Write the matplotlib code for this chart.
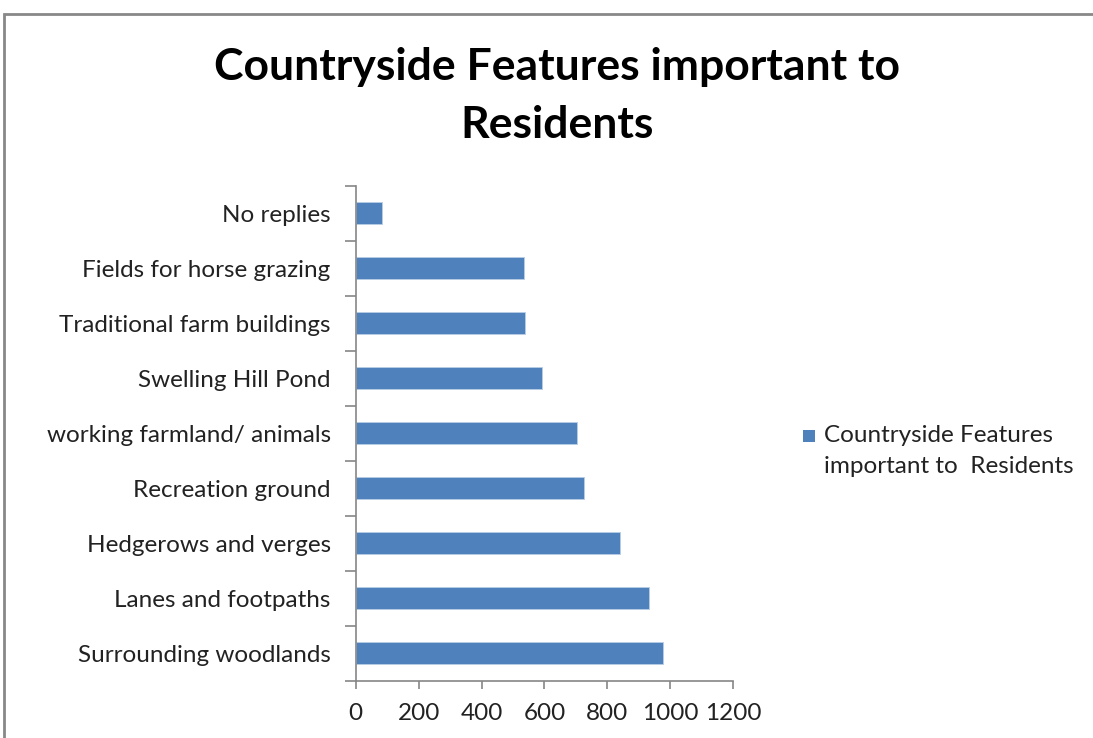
import numpy as np
import matplotlib.pyplot as plt
from matplotlib.patches import Rectangle

# survey counts per feature (bottom to top)
features = ["Surrounding woodlands", "Lanes and footpaths", "Hedgerows and verges",
            "Recreation ground", "working farmland/ animals", "Swelling Hill Pond",
            "Traditional farm buildings", "Fields for horse grazing", "No replies"]
counts = [978, 933, 840, 726, 704, 592, 539, 535, 84]
xticks = [0, 200, 400, 600, 800, 1000, 1200]

bar_color = '#4f81bd'
axis_color = '#868686'
font = 'Lato'
fs = 17.5

fig = plt.figure(figsize=(10.93, 7.38), dpi=100)
ax = fig.add_axes([0.3254, 0.0776, 0.3455, 0.6704])

y = np.arange(len(features))
ax.barh(y, counts, height=0.4, color=bar_color, edgecolor='#b9cde5', linewidth=0.6)
ax.set_ylim(-0.5, len(features) - 0.5)
ax.set_xlim(0, 1200)

ax.set_xticks(xticks)
ax.set_xticklabels([str(t) for t in xticks], fontsize=fs, family=font, color='#222222')
ax.set_yticks(y)
ax.set_yticklabels(features, fontsize=fs, family=font, color='#222222')
ax.tick_params(axis='y', length=0, pad=18)
ax.tick_params(axis='x', length=6, color=axis_color, width=1.2, pad=10)
# category separators on the value axis
ax.set_yticks(np.arange(-0.5, len(features)), minor=True)
ax.tick_params(axis='y', which='minor', length=8, color=axis_color, width=1.2)

for s in ['top', 'right']:
    ax.spines[s].set_visible(False)
for s in ['left', 'bottom']:
    ax.spines[s].set_color(axis_color)
    ax.spines[s].set_linewidth(1.2)

fig.text(0.51, 0.909, "Countryside Features important to", ha='center', va='center',
         fontsize=32, fontweight='bold', family=font)
fig.text(0.51, 0.831, "Residents", ha='center', va='center',
         fontsize=32, fontweight='bold', family=font)

# legend entry
fig.patches.append(Rectangle((803 / 1093, 1 - 442 / 738), 12 / 1093, 12 / 738,
                             transform=fig.transFigure, facecolor=bar_color, edgecolor='none'))
fig.text(824 / 1093, 1 - 436 / 738, "Countryside Features", ha='left', va='center',
         fontsize=fs, family=font, color='#222222')
fig.text(824 / 1093, 1 - 467 / 738, "important to  Residents", ha='left', va='center',
         fontsize=fs, family=font, color='#222222')

# chart area border
fig.patches.append(Rectangle((4 / 1093, -0.05), 1.1, 1 - 14 / 738 + 0.05,
                             transform=fig.transFigure, facecolor='none',
                             edgecolor='#888888', linewidth=2))

fig.savefig("out.png", dpi=100)
